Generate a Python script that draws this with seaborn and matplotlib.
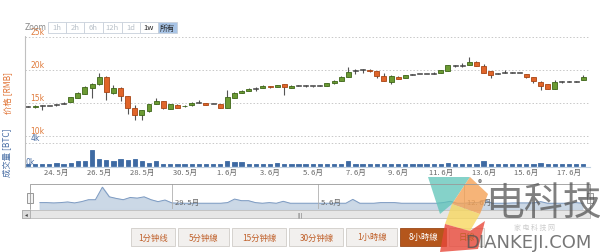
import numpy as np
import pandas as pd
import matplotlib
matplotlib.use("Agg")
import matplotlib.pyplot as plt
from matplotlib.patches import Rectangle, Polygon
import seaborn as sns

sns.set_theme(style="white")
plt.rcParams['font.family'] = ['Noto Sans CJK SC', 'DejaVu Sans']

# ---------------- data (k RMB / k BTC) ----------------
opens = [14.55, 14.45, 14.6, 14.55, 14.75, 14.9, 15.15, 15.75, 16.4, 17.3,
         17.85, 19.0, 16.5, 17.25, 16.0, 14.25, 13.15, 13.75, 14.85, 15.25,
         14.15, 14.75, 14.5, 14.65, 15.0, 15.0, 14.85, 14.85, 14.25, 15.75,
         16.5, 16.85, 17.15, 17.25, 17.6, 17.4, 17.85, 17.25, 17.7, 17.65,
         17.6, 17.65, 17.65, 18.0, 18.4, 19.0, 19.85, 20.0, 20.05, 19.85,
         19.15, 18.25, 19.0, 18.85, 19.35, 19.4, 19.4, 19.4, 19.6, 19.9,
         20.65, 20.65, 20.75, 21.25, 20.6, 19.85, 19.5, 19.6, 19.6, 19.55,
         19.35, 18.9, 18.25, 17.85, 17.15, 18.3, 18.3, 18.3, 18.5]
closes = [14.5, 14.6, 14.6, 14.55, 14.8, 14.95, 15.85, 16.5, 17.5, 17.95,
          19.0, 16.65, 17.25, 16.0, 14.25, 13.25, 13.9, 14.85, 15.35, 14.25,
          14.85, 14.25, 14.6, 15.05, 15.0, 14.75, 14.85, 14.25, 15.85, 16.5,
          16.85, 17.1, 17.15, 17.65, 17.35, 17.75, 17.45, 17.65, 17.7, 17.65,
          17.6, 17.65, 18.0, 18.4, 19.0, 19.75, 19.85, 20.0, 19.8, 19.15,
          18.35, 19.15, 18.65, 19.25, 19.35, 19.4, 19.4, 19.4, 20.0, 20.75,
          20.65, 20.65, 21.25, 20.65, 19.6, 19.25, 19.5, 19.6, 19.6, 19.55,
          19.0, 18.4, 17.65, 17.15, 18.15, 18.3, 18.3, 18.3, 18.9]
highs = [14.6, 14.7, 14.75, 14.6, 14.9, 15.1, 15.9, 16.6, 17.6, 18.1,
         19.6, 19.05, 17.75, 17.35, 16.1, 14.75, 14.0, 14.9, 15.75, 15.3,
         14.9, 14.8, 14.65, 15.1, 15.45, 15.05, 14.9, 14.9, 17.0, 16.6,
         16.95, 17.2, 17.5, 17.7, 17.65, 17.8, 17.9, 17.7, 17.75, 17.7,
         17.65, 17.7, 18.05, 18.45, 19.05, 20.5, 20.2, 20.2, 20.1, 19.9,
         19.5, 19.2, 19.05, 19.3, 19.45, 19.45, 19.45, 19.75, 20.05, 20.8,
         20.75, 21.0, 22.0, 21.3, 20.85, 19.9, 19.55, 20.0, 19.65, 19.6,
         19.4, 18.95, 18.3, 17.9, 18.5, 18.35, 18.35, 18.35, 19.25]
lows = [14.45, 14.3, 13.9, 14.5, 14.6, 14.8, 15.1, 15.7, 16.3, 15.75,
        17.8, 15.5, 16.4, 15.25, 13.35, 12.5, 12.5, 13.7, 14.8, 14.1,
        14.1, 14.2, 14.45, 14.6, 14.95, 14.7, 14.8, 14.2, 14.2, 15.7,
        16.45, 16.8, 16.8, 17.2, 17.3, 17.35, 16.25, 17.2, 17.6, 17.5,
        17.45, 17.55, 17.6, 17.95, 18.35, 18.95, 19.4, 19.5, 19.75, 18.75,
        18.3, 17.85, 18.6, 18.8, 19.3, 19.35, 19.35, 19.35, 19.55, 19.85,
        20.5, 20.5, 20.7, 20.6, 19.55, 18.85, 19.45, 19.55, 19.55, 19.5,
        18.75, 18.0, 17.0, 17.1, 17.1, 18.0, 18.2, 18.25, 18.45]
volumes = [0.4, 0.4, 0.35, 0.4, 0.5, 0.35, 0.55, 0.85, 0.85, 2.8,
           1.3, 1.05, 0.85, 1.2, 1.1, 1.3, 0.85, 0.55, 0.8, 0.35,
           0.3, 0.3, 0.3, 0.3, 0.3, 0.3, 0.3, 0.4, 0.95, 0.7,
           0.7, 0.4, 0.3, 0.4, 0.3, 0.6, 0.3, 0.3, 0.3, 0.3,
           0.3, 0.3, 0.3, 0.3, 0.3, 0.9, 0.3, 0.3, 0.3, 0.4,
           0.4, 0.4, 0.3, 0.3, 0.3, 0.3, 0.3, 0.3, 0.4, 0.6,
           0.3, 0.3, 0.4, 0.4, 0.8, 0.3, 0.3, 0.3, 0.35, 0.35,
           0.35, 0.35, 0.55, 0.3, 0.3, 0.3, 0.3, 0.4, 0.3]
date_labels = ["24. 5月", "26. 5月", "28. 5月", "30. 5月", "1. 6月", "3. 6月", "5. 6月",
               "7. 6月", "9. 6月", "11. 6月", "13. 6月", "15. 6月", "17. 6月"]
date_pos = [4, 10, 16, 22, 28, 34, 40, 46, 52, 58, 64, 70, 76]
nav_labels = ["29. 5月", "5. 6月", "12. 6月"]
nav_pos = [19, 40, 61]
price_ticks = [10, 15, 20, 25]
vol_ticks = [0, 4]
zoom_buttons = ["1h", "2h", "6h", "12h", "1d", "1w", "所有"]
range_buttons = ["1分钟线", "5分钟線", "15分钟線", "30分钟線", "1小時線", "8小時線", "日線"]

df = pd.DataFrame({"i": np.arange(len(opens)), "o": opens, "c": closes,
                   "h": highs, "l": lows, "v": volumes})

W, H = 600, 253
fig = plt.figure(figsize=(6, 2.53), dpi=100)
fig.patch.set_facecolor("white")


def rect(x0, y0, x1, y1):
    return [x0 / W, 1 - y1 / H, (x1 - x0) / W, (y1 - y0) / H]


def fx(x):
    return x / W


def fy(y):
    return 1 - y / H


GREEN, GREEN_E = "#6b9a33", "#3e6619"
ORANGE, ORANGE_E = "#e0652a", "#a84514"
BLUE = "#3e6aa3"
XL = (-0.42, 78.95)

# ---------------- price panel ----------------
axp = fig.add_axes(rect(25, 35, 590, 140))
axp.set_xlim(*XL)
axp.set_ylim(9.55, 25.45)
for t in price_ticks:
    axp.axhline(t, color="#c8c8c8", lw=0.7, ls=(0, (1.5, 2)), zorder=0)
    axp.text(0.3, t + 0.1, f"{t}k", color="#e07a3a", fontsize=5.5,
             ha="left", va="bottom", family="DejaVu Sans")
axp.vlines(df.i, df.l, df.h, color="#555555", lw=0.8, zorder=1)
for _, r in df.iterrows():
    up = r.c >= r.o
    lo, hi = min(r.o, r.c), max(r.o, r.c)
    if hi - lo < 0.08:
        axp.add_patch(Rectangle((r.i - 0.35, lo - 0.06), 0.7, 0.14,
                                facecolor="#444444", edgecolor="#444444", lw=0.4, zorder=2))
    else:
        axp.add_patch(Rectangle((r.i - 0.35, lo), 0.7, hi - lo,
                                facecolor=GREEN if up else ORANGE,
                                edgecolor=GREEN_E if up else ORANGE_E, lw=0.6, zorder=2))
axp.set_xticks([]); axp.set_yticks([])
for s in axp.spines.values():
    s.set_visible(False)

# ---------------- volume panel ----------------
axv = fig.add_axes(rect(25, 138, 590, 168))
sns.barplot(data=df, x="i", y="v", native_scale=True, color=BLUE,
            width=0.6, saturation=1, ax=axv, zorder=2,
            edgecolor=BLUE, linewidth=0.6)
axv.set_xlim(*XL)
axv.set_ylim(-0.17, 5.04)
axv.axhline(4, color="#c8c8c8", lw=0.7, ls=(0, (1.5, 2)), zorder=0)
axv.text(0.3, 4.1, "4k", color="#4a6fa5", fontsize=5.5, ha="left", va="bottom", family="DejaVu Sans")
axv.text(-0.3, 0.02, "0k", color="#4a6fa5", fontsize=5.5, ha="left", va="bottom", family="DejaVu Sans")
axv.set_yticks([])
axv.set_xticks(date_pos)
axv.set_xticklabels(date_labels, fontsize=5.5, color="#666666")
axv.tick_params(axis="x", length=0, pad=0.5)
axv.set_xlabel(""); axv.set_ylabel("")
for k, s in axv.spines.items():
    s.set_visible(k == "bottom")
axv.spines["bottom"].set_color("#c0d0e0")
axv.spines["bottom"].set_linewidth(0.8)

# left axis line
fig.add_artist(plt.Line2D([fx(25), fx(25)], [fy(37), fy(168)], color="#c0c0c0", lw=0.8))

fig.text(fx(8), fy(93), "价格 [RMB]", rotation=90, color="#e07030", fontsize=6,
         ha="center", va="center")
fig.text(fx(8), fy(153), "成交量 [BTC]", rotation=90, color="#4a6fa5", fontsize=6,
         ha="center", va="center")

# ---------------- zoom buttons ----------------
fig.text(fx(25), fy(27.5), "Zoom", color="#888888", fontsize=5.5, ha="left", va="center",
         family="DejaVu Sans")
bx = [48, 66, 84, 103, 122, 140, 158, 177]
for k, lab in enumerate(zoom_buttons):
    sel = lab == "所有"
    fig.add_artist(Rectangle((fx(bx[k]), fy(34)), (bx[k + 1] - bx[k]) / W, 11 / H,
                             transform=fig.transFigure, facecolor="#a8c4e6" if sel else "white",
                             edgecolor="#c8d0da", lw=0.6))
    col = "#222222" if lab in ("1w", "所有") else "#b8c0c8"
    fig.text(fx((bx[k] + bx[k + 1]) / 2), fy(28.5), lab, color=col, fontsize=5.5,
             ha="center", va="center")

# ---------------- navigator ----------------
axn = fig.add_axes(rect(30, 185, 590, 210))
sns.lineplot(data=df, x="i", y="v", color="#7d9bc2", lw=0.7, ax=axn)
axn.fill_between(df.i, df.v, -0.6, color="#c6d4e4", alpha=0.9)
axn.set_xlim(-1.4, 79.1)
axn.set_ylim(-0.6, 3.3)
for p, lab in zip(nav_pos, nav_labels):
    axn.axvline(p, color="#b0b0b0", lw=0.6)
    axn.text(p + 0.4, -0.1, lab, fontsize=5.5, color="#666666", ha="left", va="bottom")
axn.set_xticks([]); axn.set_yticks([])
axn.set_xlabel(""); axn.set_ylabel("")
for s in axn.spines.values():
    s.set_visible(False)
# navigator outline and handles
fig.add_artist(plt.Line2D([fx(30), fx(30), fx(590), fx(590)],
                          [fy(210), fy(185), fy(185), fy(210)], color="#999999", lw=0.6))
for hx in (30, 590):
    fig.add_artist(Rectangle((fx(hx - 3), fy(204)), 6 / W, 10 / H, transform=fig.transFigure,
                             facecolor="#f2f2f2", edgecolor="#888888", lw=0.6))

# scrollbar
fig.add_artist(Rectangle((fx(22), fy(219)), 568 / W, 8 / H, transform=fig.transFigure,
                         facecolor="#e6e6e6", edgecolor="#bbbbbb", lw=0.6))
fig.add_artist(Rectangle((fx(22), fy(219)), 8 / W, 8 / H, transform=fig.transFigure,
                         facecolor="#dcdcdc", edgecolor="#aaaaaa", lw=0.6))
fig.text(fx(26), fy(215), "◂", fontsize=4, color="#444444", ha="center", va="center",
         family="DejaVu Sans")
fig.text(fx(300), fy(215), "|||", fontsize=3.5, color="#666666", ha="center", va="center",
         family="DejaVu Sans")

# ---------------- range buttons ----------------
rb = [130, 177, 231, 288, 345, 399, 448, 486]
for k, lab in enumerate(range_buttons):
    sel = lab == "8小時線"
    fig.add_artist(Rectangle((fx(rb[k] + 1), fy(247)), (rb[k + 1] - rb[k] - 3) / W, 18 / H,
                             transform=fig.transFigure,
                             facecolor="#b4561c" if sel else "#f2f0ee",
                             edgecolor="#9a4a1a" if sel else "#d0ccc8", lw=0.6))
    fig.text(fx((rb[k] + rb[k + 1]) / 2), fy(238), lab, fontsize=6,
             color="white" if sel else "#c0602a", ha="center", va="center")

# ---------------- watermark ----------------
fig.add_artist(Polygon([(fx(428), fy(178)), (fx(470), fy(178)), (fx(452), fy(205)),
                        (fx(440), fy(215))], closed=True, transform=fig.transFigure,
                       facecolor="#5cc4b8", alpha=0.75, lw=0))
fig.add_artist(Polygon([(fx(470), fy(178)), (fx(488), fy(195)), (fx(480), fy(215)),
                        (fx(452), fy(205))], closed=True, transform=fig.transFigure,
                       facecolor="#f4a256", alpha=0.8, lw=0))
fig.add_artist(Polygon([(fx(452), fy(205)), (fx(480), fy(215)), (fx(470), fy(232)),
                        (fx(445), fy(225))], closed=True, transform=fig.transFigure,
                       facecolor="#f8d860", alpha=0.8, lw=0))
fig.add_artist(Polygon([(fx(445), fy(225)), (fx(470), fy(232)), (fx(485), fy(222)),
                        (fx(478), fy(250)), (fx(440), fy(253))], closed=True,
                       transform=fig.transFigure, facecolor="#e8483a", alpha=0.8, lw=0))
fig.text(fx(480), fy(184), "®", fontsize=6, color="#555555", ha="center", va="center")
fig.text(fx(543), fy(204), "电科技", fontsize=28, color="#555555", alpha=0.75,
         ha="center", va="center")
fig.text(fx(535), fy(228), "家 电 科 技 网", fontsize=5, color="#cccccc", ha="center", va="center")
fig.text(fx(528), fy(243), "DIANKEJI.COM", fontsize=13, color="#555555", alpha=0.8,
         ha="center", va="center", family="DejaVu Sans")

fig.savefig("out.png", dpi=100)
